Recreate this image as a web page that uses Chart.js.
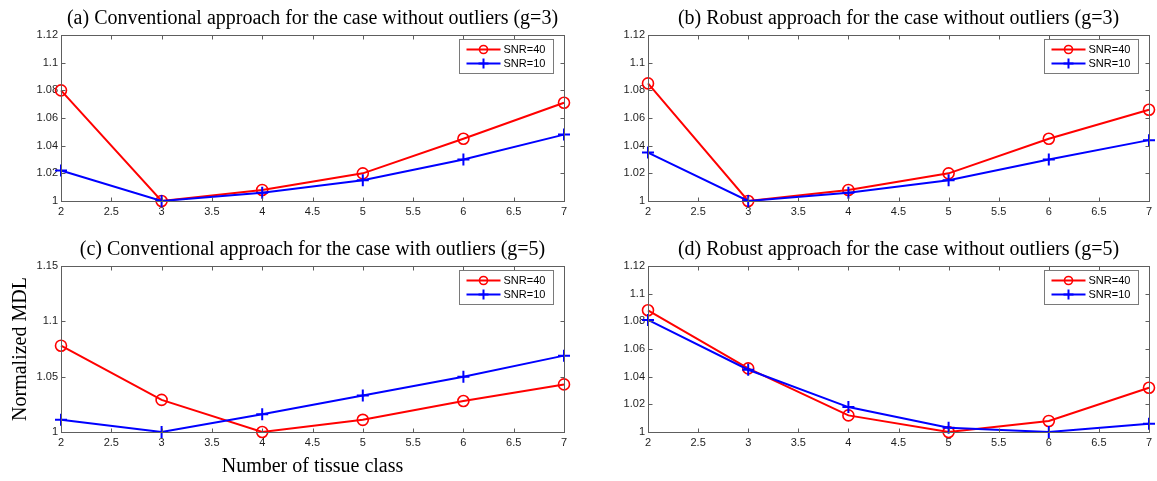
<!DOCTYPE html>
<html>
<head>
<meta charset="utf-8">
<title>Normalized MDL versus number of tissue classes</title>
<script src="https://cdn.jsdelivr.net/npm/chart.js@4.4.1/dist/chart.umd.min.js"></script>
<style>
  html, body { margin: 0; padding: 0; background: #ffffff; }
  #wrap { position: relative; width: 1157px; height: 481px; overflow: hidden; background: #ffffff; }
  #wrap canvas { position: absolute; }
</style>
</head>
<body>
<div id="wrap">
  <canvas id="panelA"></canvas>
  <canvas id="panelB"></canvas>
  <canvas id="panelC"></canvas>
  <canvas id="panelD"></canvas>
</div>
<script>
// Number of tissue classes (x values)
const classes = [2, 3, 4, 5, 6, 7];
const seriesLabels = ['SNR=40', 'SNR=10'];

// (a) conventional approach, no outliers, g=3
const convNoOutSnr40 = [1.080, 1.000, 1.008, 1.020, 1.045, 1.071];
const convNoOutSnr10 = [1.022, 1.000, 1.006, 1.015, 1.030, 1.048];
// (b) robust approach, no outliers, g=3
const robNoOutSnr40 = [1.085, 1.000, 1.008, 1.020, 1.045, 1.066];
const robNoOutSnr10 = [1.035, 1.000, 1.006, 1.015, 1.030, 1.044];
// (c) conventional approach, with outliers, g=5
const convOutSnr40 = [1.078, 1.029, 1.000, 1.011, 1.028, 1.043];
const convOutSnr10 = [1.011, 1.000, 1.016, 1.033, 1.050, 1.069];
// (d) robust approach, g=5
const robG5Snr40 = [1.088, 1.046, 1.012, 1.000, 1.008, 1.032];
const robG5Snr10 = [1.081, 1.045, 1.018, 1.003, 1.000, 1.006];

// Tick labels
const xTicks = [2, 2.5, 3, 3.5, 4, 4.5, 5, 5.5, 6, 6.5, 7];
const yTicksFine = [1, 1.02, 1.04, 1.06, 1.08, 1.1, 1.12];
const yTicksCoarse = [1, 1.05, 1.1, 1.15];

const panelTitles = [
  '(a) Conventional approach for the case without outliers (g=3)',
  '(b) Robust approach for the case without outliers (g=3)',
  '(c) Conventional approach for the case with outliers (g=5)',
  '(d) Robust approach for the case without outliers (g=5)'
];
const xAxisTitle = 'Number of tissue class';
const yAxisTitle = 'Normalized MDL';

const SERIF = '"Liberation Serif", "Times New Roman", Times, serif';
const SANS = '"Liberation Sans", Arial, Helvetica, sans-serif';
const AXIS_COLOR = '#5e5e5e';
const TICK_TEXT = '#1e1e1e';
const RED = '#ff0000';
const BLUE = '#0000ff';

const fmt = v => String(+Number(v).toFixed(3));

// Box around the plot area with inward tick marks on all four sides
const framePlugin = {
  id: 'frame',
  afterDraw(chart) {
    const { ctx, chartArea: ca, scales } = chart;
    const L = Math.round(ca.left) + 0.5, R = Math.round(ca.right) + 0.5;
    const T = Math.round(ca.top) + 0.5, B = Math.round(ca.bottom) + 0.5;
    const len = 4;
    ctx.save();
    ctx.strokeStyle = AXIS_COLOR;
    ctx.lineWidth = 1;
    ctx.strokeRect(L, T, R - L, B - T);
    ctx.beginPath();
    scales.x.ticks.forEach(t => {
      const px = Math.round(scales.x.getPixelForValue(t.value)) + 0.5;
      ctx.moveTo(px, B); ctx.lineTo(px, B - len);
      ctx.moveTo(px, T); ctx.lineTo(px, T + len);
    });
    scales.y.ticks.forEach(t => {
      const py = Math.round(scales.y.getPixelForValue(t.value)) + 0.5;
      ctx.moveTo(L, py); ctx.lineTo(L + len, py);
      ctx.moveTo(R, py); ctx.lineTo(R - len, py);
    });
    ctx.stroke();
    ctx.restore();
  }
};

function drawMarker(ctx, style, x, y, r) {
  ctx.beginPath();
  if (style === 'circle') {
    ctx.arc(x, y, r, 0, Math.PI * 2);
  } else {
    ctx.moveTo(x - r, y); ctx.lineTo(x + r, y);
    ctx.moveTo(x, y - r); ctx.lineTo(x, y + r);
  }
  ctx.stroke();
}

// Boxed legend in the upper right corner of the plot area
const legendPlugin = {
  id: 'boxLegend',
  afterDraw(chart) {
    const { ctx, chartArea: ca } = chart;
    const w = 94, h = 34;
    const L = Math.round(ca.right - 11 - w) + 0.5;
    const T = Math.round(ca.top + 4) + 0.5;
    ctx.save();
    ctx.fillStyle = '#ffffff';
    ctx.fillRect(L, T, w, h);
    ctx.strokeStyle = '#7a7a7a';
    ctx.lineWidth = 1;
    ctx.strokeRect(L, T, w, h);
    chart.data.datasets.forEach((ds, i) => {
      const y = T + 10 + i * 14;
      ctx.strokeStyle = ds.borderColor;
      ctx.lineWidth = 2;
      ctx.beginPath();
      ctx.moveTo(L + 7, y); ctx.lineTo(L + 41, y);
      ctx.stroke();
      ctx.lineWidth = ds.pointBorderWidth;
      drawMarker(ctx, ds.pointStyle, L + 24, y, ds.pointStyle === 'circle' ? 4 : 5);
      ctx.fillStyle = '#000000';
      ctx.font = '11px ' + SANS;
      ctx.textBaseline = 'middle';
      ctx.textAlign = 'left';
      ctx.fillText(ds.label, L + 44, y + 0.5);
    });
    ctx.restore();
  }
};

function makePanel(id, geom, title, s40, s10, yTicks, withAxisTitles) {
  const cv = document.getElementById(id);
  cv.style.left = geom.x + 'px';
  cv.style.top = geom.y + 'px';
  cv.width = geom.w; cv.height = geom.h;
  cv.style.width = geom.w + 'px'; cv.style.height = geom.h + 'px';

  const tickFont = { family: SANS, size: 11 };
  const serifFont = { family: SERIF, size: 20, weight: 'normal', lineHeight: 1.2 };
  return new Chart(cv, {
    type: 'line',
    data: {
      datasets: [
        {
          label: seriesLabels[0],
          data: classes.map((x, i) => ({ x, y: s40[i] })),
          borderColor: RED, borderWidth: 2,
          pointStyle: 'circle', pointRadius: 5.5, pointBorderWidth: 1.6,
          pointBorderColor: RED, pointBackgroundColor: 'rgba(0,0,0,0)',
          tension: 0, fill: false, clip: false, order: 1
        },
        {
          label: seriesLabels[1],
          data: classes.map((x, i) => ({ x, y: s10[i] })),
          borderColor: BLUE, borderWidth: 2,
          pointStyle: 'cross', pointRadius: 6, pointBorderWidth: 2,
          pointBorderColor: BLUE, pointBackgroundColor: BLUE,
          tension: 0, fill: false, clip: false, order: 0
        }
      ]
    },
    options: {
      responsive: false,
      animation: false,
      events: [],
      layout: { padding: { left: 0, right: geom.padR, top: 0, bottom: 0 } },
      plugins: {
        legend: { display: false },
        tooltip: { enabled: false },
        title: {
          display: true, text: title, fullSize: false,
          color: '#000000',
          font: serifFont,
          padding: { top: geom.titleTop, bottom: 4 }
        }
      },
      scales: {
        x: {
          type: 'linear', min: 2, max: 7,
          afterBuildTicks: s => { s.ticks = xTicks.map(v => ({ value: v })); },
          afterFit: s => { s.height = geom.xh; },
          grid: { display: false, drawTicks: false },
          border: { display: false },
          ticks: { callback: fmt, autoSkip: false, maxRotation: 0, padding: 4, font: tickFont, color: TICK_TEXT },
          title: {
            display: withAxisTitles, text: xAxisTitle, color: '#000000',
            font: serifFont,
            padding: { top: 0, bottom: 2 }
          }
        },
        y: {
          type: 'linear', min: yTicks[0], max: yTicks[yTicks.length - 1],
          afterBuildTicks: s => { s.ticks = yTicks.map(v => ({ value: v })); },
          afterFit: s => { s.width = 61; },
          grid: { display: false, drawTicks: false },
          border: { display: false },
          ticks: { callback: fmt, autoSkip: false, padding: 3, font: tickFont, color: TICK_TEXT },
          title: {
            display: withAxisTitles, text: yAxisTitle, color: '#000000',
            font: serifFont,
            padding: { top: 9, bottom: 0 }
          }
        }
      }
    },
    plugins: [framePlugin, legendPlugin]
  });
}

makePanel('panelA', { x: 0, y: 0, w: 580, h: 220, padR: 16, titleTop: 7, xh: 19 },
  panelTitles[0], convNoOutSnr40, convNoOutSnr10, yTicksFine, false);
makePanel('panelB', { x: 587, y: 0, w: 570, h: 220, padR: 6, titleTop: 7, xh: 19 },
  panelTitles[1], robNoOutSnr40, robNoOutSnr10, yTicksFine, false);
makePanel('panelC', { x: 0, y: 220, w: 580, h: 261, padR: 16, titleTop: 18, xh: 49 },
  panelTitles[2], convOutSnr40, convOutSnr10, yTicksCoarse, true);
makePanel('panelD', { x: 587, y: 220, w: 570, h: 261, padR: 6, titleTop: 18, xh: 49 },
  panelTitles[3], robG5Snr40, robG5Snr10, yTicksFine, false);
</script>
</body>
</html>
